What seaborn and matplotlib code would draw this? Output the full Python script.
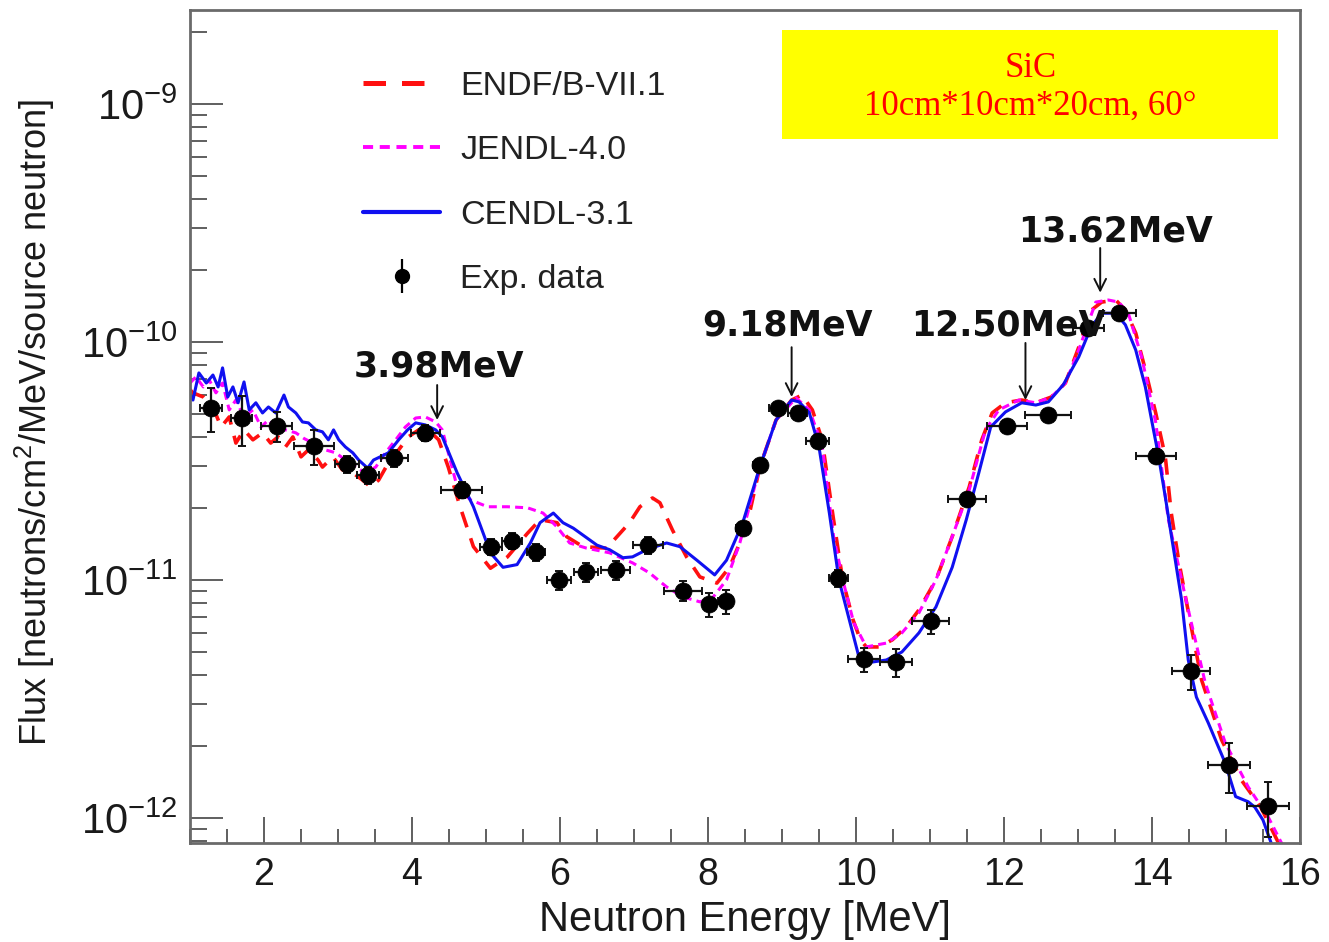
import numpy as np
import pandas as pd
import matplotlib
matplotlib.use("Agg")
import matplotlib.pyplot as plt
import seaborn as sns
from matplotlib.ticker import MultipleLocator, FixedLocator, LogFormatterMathtext, NullFormatter
from matplotlib.patches import Rectangle
from matplotlib.lines import Line2D

UNIT = 1e-11  # flux values below are in units of 1e-11 neutrons/cm^2/MeV/source neutron

# ---------------- ENDF/B-VII.1 (red dashed) ----------------
endf_E = [1.0, 1.04, 1.18, 1.31, 1.42, 1.53, 1.62, 1.73, 1.85, 1.98, 2.09, 2.19, 2.29, 2.39, 2.50,
          2.60, 2.73, 2.79, 2.93, 3.06, 3.20, 3.33, 3.44, 3.55, 3.68, 3.82, 3.95, 4.09, 4.22, 4.36,
          4.49, 4.65, 4.83, 5.06, 5.29, 5.56, 5.73, 5.96, 6.09, 6.31, 6.63, 6.77, 6.94, 7.08, 7.25,
          7.35, 7.52, 7.71, 7.89, 8.12, 8.29, 8.52, 8.70, 8.92, 9.13, 9.27, 9.41, 9.54, 9.69, 9.82,
          9.96, 10.06, 10.14, 10.31, 10.49, 10.68, 10.85, 11.08, 11.30, 11.53, 11.70, 11.84, 12.02,
          12.24, 12.43, 12.64, 12.83, 13.01, 13.18, 13.32, 13.51, 13.64, 13.78, 13.91, 14.05, 14.18,
          14.26, 14.36, 14.46, 14.67, 14.94, 15.21, 15.47, 15.71, 15.80]
endf_F = [6.30, 6.11, 5.87, 5.33, 4.39, 4.84, 3.76, 4.27, 3.88, 4.15, 3.76, 3.99, 3.62, 3.99, 3.29,
          3.52, 3.19, 2.98, 3.29, 2.90, 2.82, 2.63, 2.46, 2.63, 3.10, 3.52, 3.99, 4.27, 4.27, 3.88,
          2.98, 2.03, 1.38, 1.12, 1.25, 1.57, 1.79, 1.74, 1.52, 1.38, 1.36, 1.52, 1.74, 2.03, 2.21,
          2.11, 1.62, 1.25, 1.03, 0.97, 1.13, 1.67, 2.98, 4.70, 5.70, 5.98, 5.18, 3.90, 1.85, 1.00,
          0.68, 0.56, 0.523, 0.523, 0.56, 0.635, 0.748, 1.00, 1.52, 2.46, 3.88, 5.03, 5.55,
          5.70, 5.55, 5.87, 6.72, 9.50, 13.6, 14.7, 15.0, 13.6, 10.9, 7.63, 5.03, 3.29,
          1.91, 1.21, 0.824, 0.38, 0.213, 0.144, 0.111, 0.0785, 0.065]

# ---------------- JENDL-4.0 (magenta short dashes) ----------------
jendl_E = [1.0, 1.08, 1.18, 1.26, 1.35, 1.44, 1.53, 1.62, 1.73, 1.85, 1.96, 2.06, 2.16, 2.29, 2.43,
           2.54, 2.66, 2.83, 2.97, 3.10, 3.24, 3.37, 3.51, 3.64, 3.78, 3.91, 4.05, 4.18, 4.32, 4.41,
           4.61, 4.79, 5.02, 5.29, 5.56, 5.77, 5.96, 6.13, 6.36, 6.67, 6.98, 7.21, 7.44, 7.66, 7.89,
           8.06, 8.25, 8.43, 8.70, 8.92, 9.19, 9.37, 9.54, 9.70, 9.84, 9.97, 10.14, 10.41, 10.62,
           10.85, 11.08, 11.30, 11.53, 11.75, 11.93, 12.20, 12.43, 12.64, 12.83, 13.01, 13.24, 13.41,
           13.55, 13.68, 13.86, 14.05, 14.22, 14.46, 14.72, 14.99, 15.30, 15.57, 15.75, 15.85]
jendl_F = [6.72, 7.13, 6.47, 6.92, 6.11, 6.72, 5.18, 5.70, 4.84, 5.18, 4.39, 4.70, 4.27, 4.27, 4.15,
           3.93, 3.76, 3.52, 3.42, 3.19, 2.98, 2.82, 2.98, 3.42, 3.88, 4.39, 4.79, 4.84, 4.61, 4.27,
           2.46, 2.17, 2.03, 2.03, 2.01, 1.91, 1.67, 1.43, 1.36, 1.30, 1.18, 1.07, 0.935, 0.849, 0.809,
           0.84, 1.00, 1.43, 2.98, 4.70, 5.82, 5.18, 3.70, 1.50, 0.95, 0.66, 0.523, 0.543, 0.599,
           0.727, 1.00, 1.52, 2.39, 4.27, 5.18, 5.70, 5.55, 5.87, 6.72, 9.25, 14.7, 15.0,
           14.7, 13.2, 8.65, 4.60, 1.80, 0.824, 0.369, 0.207, 0.135, 0.101, 0.0785, 0.064]

# ---------------- CENDL-3.1 (blue solid) ----------------
cendl_E = [1.0, 1.04, 1.12, 1.22, 1.31, 1.38, 1.44, 1.51, 1.58, 1.65, 1.73, 1.80, 1.89, 1.98, 2.06,
           2.16, 2.27, 2.33, 2.43, 2.52, 2.60, 2.70, 2.79, 2.87, 2.94, 3.01, 3.10, 3.20, 3.28, 3.40,
           3.48, 3.57, 3.68, 3.82, 3.94, 4.05, 4.18, 4.32, 4.41, 4.61, 4.83, 5.06, 5.23, 5.42, 5.60,
           5.73, 5.91, 6.04, 6.18, 6.50, 6.67, 6.85, 6.98, 7.17, 7.44, 7.62, 7.85, 8.09, 8.25, 8.47,
           8.70, 8.92, 9.13, 9.23, 9.37, 9.50, 9.64, 9.77, 9.91, 10.04, 10.22, 10.41, 10.62, 10.85,
           11.08, 11.30, 11.49, 11.66, 11.82, 12.02, 12.24, 12.43, 12.60, 12.80, 13.01, 13.18, 13.32,
           13.51, 13.64, 13.78, 13.91, 14.02, 14.09, 14.18, 14.25, 14.40, 14.49, 14.60, 14.76, 14.99,
           15.13, 15.30, 15.39, 15.50, 15.61, 15.70]
cendl_F = [6.00, 5.70, 7.41, 6.72, 7.26, 6.47, 7.78, 5.87, 6.47, 5.55, 6.79, 5.18, 5.55, 5.03, 5.33,
           5.03, 5.98, 5.33, 5.03, 4.61, 4.57, 4.27, 4.19, 3.88, 4.27, 3.88, 3.62, 3.42, 3.19, 2.95,
           3.19, 3.29, 3.42, 3.88, 4.27, 4.57, 4.48, 4.27, 3.99, 2.82, 2.03, 1.30, 1.13, 1.16, 1.43,
           1.74, 1.91, 1.74, 1.65, 1.40, 1.34, 1.24, 1.25, 1.34, 1.43, 1.38, 1.21, 1.05, 1.21, 1.74,
           2.98, 4.70, 5.70, 5.60, 5.03, 3.62, 1.91, 1.00, 0.679, 0.474, 0.452, 0.461, 0.498, 0.599,
           0.77, 1.13, 1.79, 2.82, 4.39, 5.08, 5.55, 5.43, 5.60, 6.60, 8.65, 11.6, 13.2,
           13.2, 11.8, 9.25, 6.47, 4.27, 3.29, 2.23, 1.62, 0.824, 0.461, 0.322, 0.251, 0.170,
           0.123, 0.117, 0.111, 0.098, 0.0785, 0.064]

# ---------------- Experimental data ----------------
exp_E = [1.28, 1.70, 2.17, 2.67, 3.12, 3.41, 3.76, 4.18, 4.67, 5.07, 5.35, 5.68, 5.99, 6.35, 6.75,
         7.19, 7.66, 8.02, 8.24, 8.47, 8.70, 8.95, 9.21, 9.48, 9.76, 10.11, 10.54, 11.01, 11.50,
         12.04, 12.60, 13.14, 13.56, 14.05, 14.53, 15.04, 15.57]
exp_F = [5.28, 4.79, 4.44, 3.66, 3.07, 2.76, 3.25, 4.15, 2.39, 1.38, 1.46, 1.31, 1.00, 1.08, 1.10,
         1.40, 0.90, 0.79, 0.816, 1.65, 3.04, 5.28, 5.03, 3.84, 1.02, 0.466, 0.452, 0.673, 2.19,
         4.44, 4.93, 11.4, 13.2, 3.32, 0.415, 0.167, 0.112]
exp_Eerr = [0.15, 0.14, 0.21, 0.27, 0.16, 0.15, 0.18, 0.20, 0.28, 0.15, 0.13, 0.12, 0.16, 0.16, 0.20,
            0.20, 0.26, 0.09, 0.10, 0.09, 0.09, 0.13, 0.13, 0.16, 0.13, 0.22, 0.22, 0.25, 0.26,
            0.27, 0.31, 0.21, 0.22, 0.27, 0.26, 0.28, 0.28]
exp_Frel = [0.21, 0.24, 0.145, 0.17, 0.08, 0.08, 0.08, 0.08, 0.08, 0.08, 0.08, 0.085, 0.095, 0.095,
            0.095, 0.08, 0.095, 0.115, 0.115, 0.06, 0.05, 0.05, 0.05, 0.06, 0.08, 0.115, 0.135,
            0.115, 0.06, 0.05, 0.05, 0.05, 0.05, 0.07, 0.17, 0.24, 0.26]

# peak annotations: label, arrow energy, arrow tip flux, arrow tail flux, text energy, text flux
peak_labels = ["3.98MeV", "9.18MeV", "12.50MeV", "13.62MeV"]
peak_arrow_E = [4.34, 9.13, 12.29, 13.30]
peak_tip_F = [4.70, 5.87, 5.70, 16.1]
peak_tail_F = [6.59, 9.5, 9.9, 24.8]
peak_text_E = [4.37, 9.07, 12.06, 13.51]
peak_text_F = [7.85, 11.7, 11.7, 29.0]

legend_labels = ["ENDF/B-VII.1", "JENDL-4.0", "CENDL-3.1", "Exp. data"]

# axis ticks
x_major = [2, 4, 6, 8, 10, 12, 14, 16]
y_major = [1e-12, 1e-11, 1e-10, 1e-9]
y_minor = [m * 10.0 ** e for e in range(-13, -8) for m in range(2, 10)
           if 7.85e-13 <= m * 10.0 ** e <= 2.48e-9]

# ---------------- build frames ----------------
curves = pd.concat([
    pd.DataFrame({"E": endf_E, "flux": np.array(endf_F) * UNIT, "lib": legend_labels[0]}),
    pd.DataFrame({"E": jendl_E, "flux": np.array(jendl_F) * UNIT, "lib": legend_labels[1]}),
    pd.DataFrame({"E": cendl_E, "flux": np.array(cendl_F) * UNIT, "lib": legend_labels[2]}),
], ignore_index=True)
exp = pd.DataFrame({"E": exp_E, "flux": np.array(exp_F) * UNIT,
                    "Eerr": exp_Eerr, "Ferr": np.array(exp_F) * UNIT * np.array(exp_Frel)})

sns.set_theme(style="ticks")
plt.rcParams["font.family"] = ["Liberation Sans", "DejaVu Sans"]
plt.rcParams["mathtext.fontset"] = "custom"
plt.rcParams["mathtext.rm"] = "Liberation Sans"
plt.rcParams["mathtext.it"] = "Liberation Sans:italic"
plt.rcParams["mathtext.bf"] = "Liberation Sans:bold"

fig = plt.figure(figsize=(13.29, 9.42), dpi=100)
ax = fig.add_axes([190 / 1329, 1 - 843 / 942, 1110 / 1329, 833 / 942])

styles = {
    legend_labels[0]: dict(color="#ff1010", lw=2.6, dashes=(4.5, 3.2)),
    legend_labels[1]: dict(color="#ff00ff", lw=2.2, dashes=(2.6, 1.7)),
    legend_labels[2]: dict(color="#1010f0", lw=2.2, dashes=None),
}
for lib in legend_labels[:3]:
    st = styles[lib]
    sns.lineplot(data=curves[curves["lib"] == lib], x="E", y="flux", sort=False,
                 estimator=None, color=st["color"], lw=st["lw"], ax=ax, legend=False)
    line = ax.lines[-1]
    if st["dashes"] is not None:
        line.set_dashes(st["dashes"])

ax.errorbar(exp["E"], exp["flux"], xerr=exp["Eerr"], yerr=exp["Ferr"], fmt="none",
            ecolor="#111111", elinewidth=1.6, capsize=3, capthick=1.4, zorder=5)
sns.scatterplot(data=exp, x="E", y="flux", color="black", s=150, edgecolor="black",
                linewidth=0.5, ax=ax, zorder=6, legend=False)

ax.set_yscale("log")
ax.set_xlim(1, 16)
ax.set_ylim(7.85e-13, 2.48e-9)

ax.xaxis.set_major_locator(FixedLocator(x_major))
ax.xaxis.set_minor_locator(MultipleLocator(0.5))
ax.xaxis.set_minor_formatter(NullFormatter())
ax.yaxis.set_major_locator(FixedLocator(y_major))
ax.yaxis.set_minor_locator(FixedLocator(y_minor))
ax.yaxis.set_major_formatter(LogFormatterMathtext())
ax.yaxis.set_minor_formatter(NullFormatter())

tick_color = "#444444"
ax.tick_params(axis="x", which="major", direction="in", length=19, width=1.2, color=tick_color,
               labelsize=27, pad=10, top=False)
ax.tick_params(axis="x", which="minor", direction="in", length=10, width=1.2, color=tick_color, top=False)
ax.tick_params(axis="y", which="major", direction="in", length=24, width=1.2, color=tick_color,
               labelsize=30, pad=9, right=False)
ax.tick_params(axis="y", which="minor", direction="in", length=12, width=1.2, color=tick_color, right=False)
for lab in ax.get_xticklabels() + ax.get_yticklabels():
    lab.set_color("#1a1a1a")

for sp in ax.spines.values():
    sp.set_visible(True)
    sp.set_color("#6a6a6a")
    sp.set_linewidth(2.0)

ax.set_xlabel("Neutron Energy [MeV]", fontsize=30, color="#1a1a1a")
ax.set_ylabel(r"Flux [neutrons/cm$^{2}$/MeV/source neutron]", fontsize=26, color="#1a1a1a")
ax.xaxis.set_label_coords(0.5, -0.068)
ax.yaxis.set_label_coords(-0.12, 0.505)

# peak annotations
for lab, ae, tf, tl, te, txf in zip(peak_labels, peak_arrow_E, peak_tip_F, peak_tail_F,
                                     peak_text_E, peak_text_F):
    ax.annotate("", xy=(ae, tf * UNIT), xytext=(ae, tl * UNIT),
                arrowprops=dict(arrowstyle="->,head_length=0.7,head_width=0.35", lw=1.4,
                                color="#111111", shrinkA=0, shrinkB=0), zorder=7)
    ax.text(te, txf * UNIT, lab, ha="center", va="center", fontsize=25, fontweight="bold",
            family="DejaVu Sans", color="#111111", zorder=8)

# yellow info box
ax.add_patch(Rectangle((0.533, 0.845), 0.447, 0.131, transform=ax.transAxes,
                       facecolor="#ffff00", edgecolor="none", zorder=3))
ax.text(0.757, 0.930, "SiC", transform=ax.transAxes, ha="center", va="center",
        fontsize=25, family="Liberation Serif", color="#ff0000", zorder=4)
ax.text(0.757, 0.884, "10cm*10cm*20cm, 60°", transform=ax.transAxes, ha="center", va="center",
        fontsize=25, family="Liberation Serif", color="#ff0000", zorder=4)

# legend
handles = [Line2D([], [], **{k: v for k, v in styles[l].items() if k != "dashes"}) for l in legend_labels[:3]]
handles[0].set_dashes(styles[legend_labels[0]]["dashes"])
handles[1].set_dashes(styles[legend_labels[1]]["dashes"])
handles[0].set_linewidth(3.6)
handles[1].set_linewidth(2.8)
handles[2].set_linewidth(3.0)
proxy = ax.errorbar([np.nan], [np.nan], yerr=[1e-12], fmt="o", color="black", ms=10,
                    elinewidth=1.6, capsize=0)
handles.append(proxy)
leg = ax.legend(handles, legend_labels, loc="upper left", bbox_to_anchor=(0.156, 0.927),
                frameon=False, fontsize=24.5, handlelength=2.26, handletextpad=0.59,
                labelspacing=0.98, borderpad=0, borderaxespad=0)
for t in leg.get_texts():
    t.set_color("#222222")

fig.savefig("out.png", dpi=100)
